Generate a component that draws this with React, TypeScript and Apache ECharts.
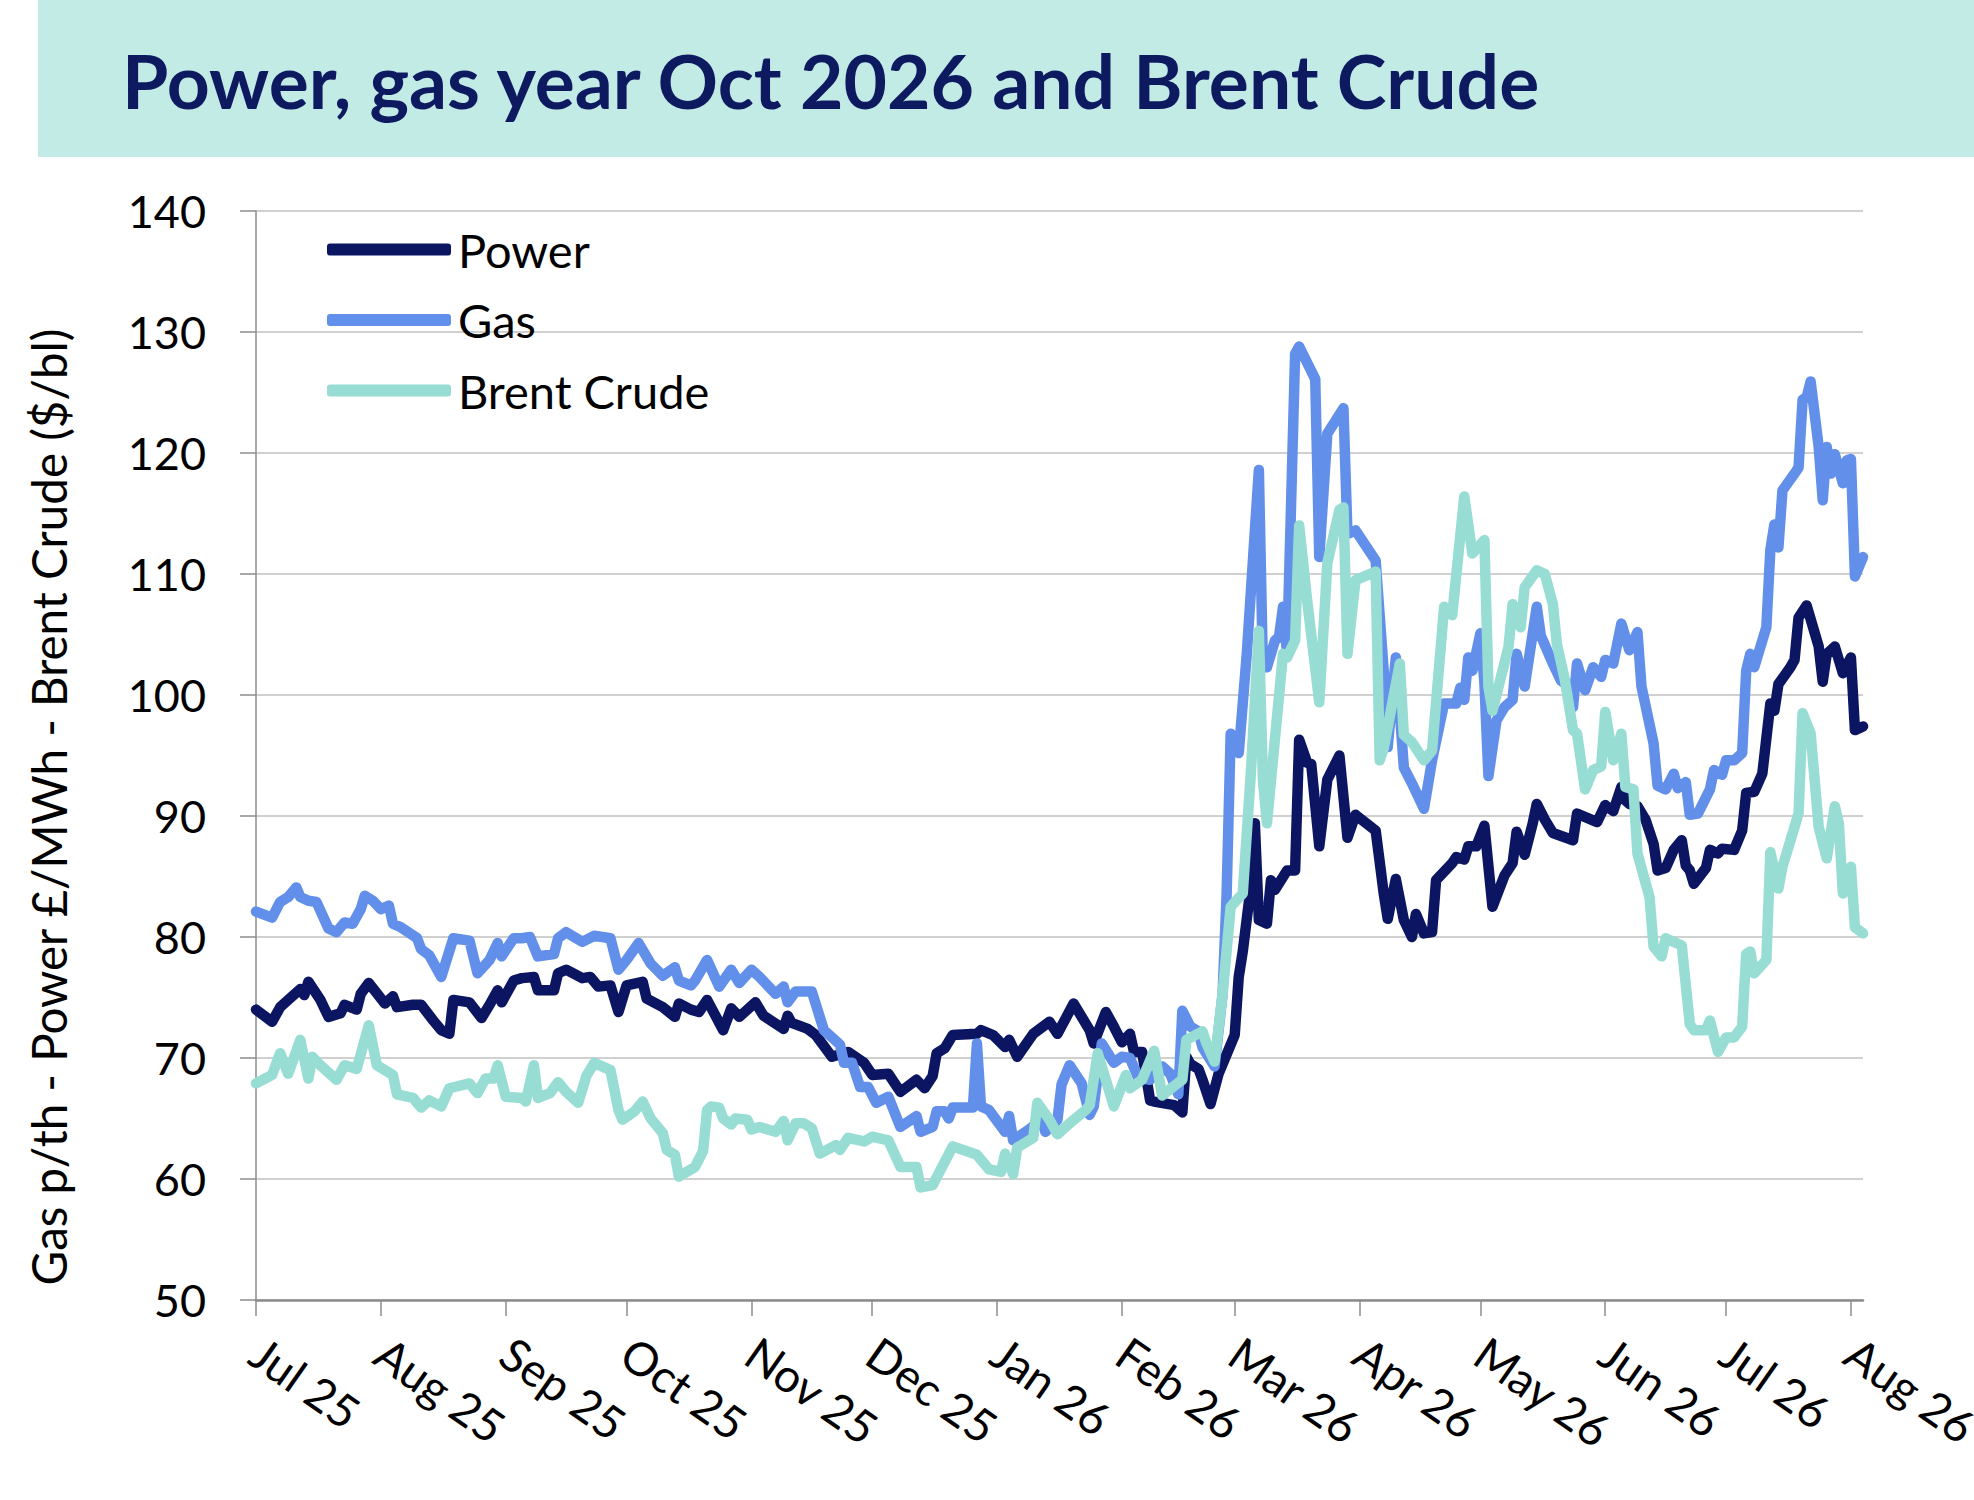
import React, { useEffect, useRef } from "react";
import * as echarts from "echarts";

// ---- data (days counted from 1 Jul 2025) ----
const TITLE = "Power, gas year Oct 2026 and Brent Crude";
const Y_TITLE = "Gas p/th - Power £/MWh - Brent Crude ($/bl)";
const SERIES_NAMES = ["Power", "Gas", "Brent Crude"];
const MONTH_LABELS = ["Jul 25", "Aug 25", "Sep 25", "Oct 25", "Nov 25", "Dec 25", "Jan 26", "Feb 26", "Mar 26", "Apr 26", "May 26", "Jun 26", "Jul 26", "Aug 26"];
const Y_MIN = 50;
const Y_MAX = 140;
const Y_STEP = 10;
const LAST_DAY = 399;

const powerDays = [0, 4, 6, 8, 11, 12, 13, 16, 18, 21, 22, 25, 26, 28, 32, 34, 35, 39, 41, 44, 46, 48, 49, 53, 56, 58, 60, 61, 64, 66, 69, 70, 74, 75, 77, 81, 83, 85, 88, 90, 92, 96, 97, 101, 104, 105, 108, 110, 112, 116, 118, 120, 124, 126, 131, 132, 133, 137, 139, 143, 147, 151, 153, 157, 160, 164, 166, 168, 169, 171, 173, 179, 180, 183, 186, 187, 189, 193, 197, 199, 203, 207, 208, 211, 213, 215, 217, 218, 220, 222, 223, 228, 230, 231, 232, 234, 235, 237, 239, 243, 244, 245, 247, 248, 249, 251, 252, 253, 256, 258, 259, 261, 262, 264, 266, 269, 271, 273, 278, 280, 281, 283, 285, 287, 288, 290, 292, 293, 297, 298, 300, 301, 303, 305, 307, 310, 312, 313, 315, 317, 318, 320, 322, 327, 328, 333, 335, 337, 339, 340, 341, 343, 345, 347, 348, 350, 352, 354, 355, 356, 357, 360, 361, 363, 364, 367, 369, 370, 372, 374, 376, 377, 378, 381, 382, 383, 385, 388, 389, 390, 392, 394, 396, 397, 399];
const powerValues = [74, 73, 74.2, 74.8, 75.7, 75.2, 76.3, 74.8, 73.4, 73.7, 74.4, 74, 75.3, 76.2, 74.5, 75.1, 74.2, 74.4, 74.4, 73.1, 72.3, 72.0, 74.8, 74.6, 73.3, 74.4, 75.6, 74.6, 76.4, 76.6, 76.7, 75.6, 75.6, 77, 77.3, 76.6, 76.7, 75.9, 76, 73.8, 76, 76.3, 74.9, 74.2, 73.4, 74.5, 74.0, 73.8, 74.8, 72.3, 74.1, 73.4, 74.6, 73.5, 72.4, 73.5, 72.9, 72.4, 71.9, 70.1, 70.5, 69.6, 68.6, 68.7, 67.2, 68.2, 67.5, 68.5, 70.4, 70.8, 71.9, 72, 72.3, 71.9, 70.9, 71.5, 70.1, 72, 73, 72, 74.5, 72.3, 71.2, 73.8, 72.6, 71.3, 72, 70.5, 70.5, 66.5, 66.4, 66.1, 65.5, 70.1, 69.5, 69.1, 68.2, 66.2, 68.7, 71.9, 76.7, 78.8, 84.2, 89.4, 81.4, 81.1, 84.7, 83.9, 85.5, 85.5, 96.3, 94.4, 94.3, 87.5, 93, 95, 88.2, 90.1, 88.8, 83.6, 81.5, 84.8, 81.4, 80, 81.9, 80.3, 80.4, 84.7, 86.1, 86.6, 86.4, 87.5, 87.5, 89.2, 82.5, 85.1, 86.1, 88.7, 86.8, 89.4, 91, 89.7, 88.6, 88, 90.2, 89.5, 90.9, 90.4, 92.4, 91.3, 91, 90.8, 89.7, 87.7, 85.5, 85.7, 87.2, 88, 85.9, 85.5, 84.4, 85.7, 87.2, 86.9, 87.3, 87.2, 88.8, 91.9, 92, 93.5, 99.3, 98.7, 100.9, 102.3, 102.9, 106.4, 107.4, 104, 101.1, 103.4, 104, 101.8, 103.1, 97.1, 97.4];

const gasDays = [0, 4, 6, 8, 10, 11, 13, 15, 18, 20, 22, 24, 26, 27, 29, 31, 33, 34, 36, 40, 41, 43, 46, 49, 53, 55, 58, 60, 61, 64, 66, 68, 70, 74, 75, 77, 81, 84, 88, 90, 92, 95, 98, 101, 104, 105, 108, 109, 112, 115, 118, 120, 123, 125, 129, 131, 132, 134, 138, 141, 145, 146, 148, 150, 152, 154, 157, 160, 164, 165, 168, 169, 171, 172, 173, 178, 179, 180, 182, 186, 187, 188, 192, 195, 196, 199, 200, 202, 205, 207, 208, 210, 213, 215, 217, 219, 222, 225, 227, 229, 230, 232, 234, 235, 238, 240, 241, 242, 244, 246, 249, 250, 251, 253, 254, 255, 256, 258, 259, 263, 264, 266, 270, 271, 273, 278, 280, 281, 283, 285, 287, 290, 292, 295, 298, 299, 300, 301, 302, 304, 305, 306, 308, 310, 312, 313, 315, 317, 318, 319, 322, 324, 326, 327, 328, 330, 332, 334, 335, 337, 339, 341, 343, 344, 347, 348, 350, 352, 353, 355, 356, 358, 361, 362, 364, 365, 367, 369, 370, 371, 372, 375, 376, 377, 378, 379, 382, 383, 384, 385, 386, 388, 389, 390, 391, 392, 394, 395, 396, 397, 399];
const gasValues = [82.1, 81.6, 82.9, 83.3, 84.1, 83.3, 83.0, 82.9, 80.7, 80.4, 81.2, 81.1, 82.3, 83.4, 83.0, 82.3, 82.6, 81.1, 80.8, 79.9, 79.0, 78.5, 76.7, 79.9, 79.7, 77.0, 78.1, 79.5, 78.4, 79.9, 79.9, 80, 78.4, 78.6, 79.9, 80.4, 79.6, 80.1, 79.9, 77.3, 78.1, 79.5, 77.8, 76.8, 77.5, 76.4, 76.0, 76.4, 78.1, 75.9, 77.3, 76.2, 77.3, 76.7, 75.3, 75.9, 74.6, 75.5, 75.5, 72.3, 71.1, 69.6, 69.6, 67.6, 67.6, 66.3, 66.8, 64.3, 65.2, 63.9, 64.3, 65.6, 65.6, 65.0, 65.9, 65.9, 71.2, 66, 65.7, 63.9, 65.2, 63.2, 64.1, 64.9, 63.9, 64.9, 67.8, 69.4, 67.9, 65.3, 66, 71.2, 69.6, 70.1, 70.0, 68.4, 68.2, 69.3, 68.7, 67.0, 73.9, 72.6, 72.2, 70.9, 69.3, 75.3, 83.6, 96.8, 95.2, 103.4, 118.6, 102.3, 102.3, 104.5, 104.8, 107.3, 103.4, 128.2, 128.8, 126.1, 111.4, 121.6, 123.7, 113.3, 113.6, 111.1, 102, 95.7, 103.1, 94, 92.7, 90.6, 94.6, 99.3, 99.3, 100.6, 99.6, 103.1, 102, 105.1, 101.0, 93.3, 97.9, 99, 99.6, 103.4, 100.7, 105.1, 107.3, 104.9, 102.6, 101.2, 100.7, 99, 102.6, 100.4, 102.3, 101.5, 102.9, 102.6, 105.9, 103.7, 105.2, 100.7, 96, 92.5, 92.2, 93.5, 92.3, 92.8, 90.1, 90.2, 92.2, 93.8, 93.4, 94.6, 94.6, 95.2, 102, 103.4, 102.3, 105.6, 112, 114.1, 112.2, 116.9, 118.3, 118.8, 124.4, 124.6, 125.9, 120.5, 116.1, 120.5, 118.3, 119.9, 117.5, 119.4, 119.5, 109.8, 111.4];

const brentDays = [0, 4, 6, 8, 11, 13, 14, 16, 20, 22, 25, 28, 30, 34, 35, 39, 40, 41, 43, 46, 48, 53, 55, 57, 59, 60, 62, 66, 67, 69, 70, 73, 75, 77, 80, 82, 84, 88, 90, 91, 94, 96, 98, 101, 102, 104, 105, 107, 109, 111, 112, 113, 115, 116, 118, 119, 122, 123, 125, 129, 131, 132, 134, 136, 138, 140, 144, 145, 147, 151, 153, 157, 160, 164, 165, 168, 173, 179, 182, 185, 186, 188, 189, 193, 194, 197, 199, 202, 206, 207, 209, 213, 216, 217, 220, 223, 225, 228, 230, 231, 235, 236, 238, 240, 242, 245, 247, 249, 250, 251, 255, 256, 258, 259, 261, 264, 266, 269, 270, 271, 273, 278, 279, 280, 284, 285, 287, 290, 292, 295, 297, 300, 302, 305, 306, 307, 311, 312, 314, 315, 318, 320, 322, 323, 325, 327, 328, 330, 332, 334, 335, 337, 339, 340, 342, 343, 346, 347, 349, 350, 354, 356, 357, 360, 361, 363, 365, 367, 369, 370, 371, 372, 375, 376, 378, 379, 382, 383, 384, 386, 388, 390, 392, 393, 394, 396, 397, 399];
const brentValues = [67.9, 68.6, 70.4, 68.7, 71.5, 68.3, 70.1, 69.4, 68.2, 69.4, 69.1, 72.7, 69.4, 68.6, 67, 66.7, 66.3, 65.9, 66.5, 66, 67.5, 67.9, 67.1, 68.3, 68.3, 69.4, 66.8, 66.7, 66.4, 69.4, 66.7, 67.1, 68, 67.2, 66.3, 68.5, 69.6, 69, 65.7, 64.9, 65.6, 66.4, 65, 63.8, 62.4, 62, 60.2, 60.6, 61.0, 62.3, 65.7, 66, 65.9, 65, 64.5, 65, 64.9, 64.1, 64.3, 63.9, 64.8, 63.2, 64.6, 64.6, 64.2, 62.1, 62.8, 62.4, 63.4, 63.1, 63.5, 63.2, 61, 61, 59.3, 59.5, 62.7, 62, 60.8, 60.6, 62.1, 60.4, 62.6, 63.4, 66.3, 64.9, 63.7, 64.6, 65.7, 66.1, 70.4, 66, 68.6, 67.5, 68.2, 70.6, 66.9, 67.7, 68.2, 71.5, 72.2, 71.2, 69.7, 75.3, 82.5, 83.6, 93.5, 105.3, 93, 89.4, 103.4, 103.1, 104.5, 114, 107.8, 99.4, 110.9, 115.3, 115.5, 103.4, 109.5, 110.2, 94.6, 95.6, 102.6, 96.7, 96.1, 94.6, 95.4, 107.3, 106.6, 116.4, 111.7, 112.8, 100.7, 98.7, 104, 107.5, 105.6, 108.9, 110.3, 110, 107.5, 104.2, 101.2, 97.1, 96.8, 92.2, 93.8, 94.1, 98.6, 94.6, 96.8, 92.4, 92.2, 86.9, 83.3, 79.2, 78.4, 79.9, 79.3, 72.8, 72.3, 72.3, 73.1, 70.5, 71.7, 71.7, 72.6, 78.6, 78.8, 77, 78.1, 87, 84, 85.8, 89.1, 90.2, 98.5, 96.8, 89.1, 86.5, 90.8, 89.4, 83.6, 85.8, 80.8, 80.3];

// ---- helpers ----
const DAY_MS = 86400000;
const START = new Date(2025, 6, 1).getTime();
const monthStartDays = MONTH_LABELS.map((_, i) => Math.round((new Date(2025, 6 + i, 1).getTime() - START) / DAY_MS));
const pairs = (days: number[], vals: number[]) => days.map((d, i) => [d, vals[i]]);

const COLORS = { power: "#0b1562", gas: "#628fea", brent: "#97ddd4" };
const FONT = "Lato";

export default function App() {
  const ref = useRef<HTMLDivElement>(null);

  useEffect(() => {
    document.body.style.margin = "0";
    if (!ref.current) return;
    const chart = echarts.init(ref.current, undefined, { renderer: "svg" });

    const lineSeries = (name: string, data: number[][], color: string) => ({
      name,
      type: "line",
      data,
      showSymbol: false,
      symbol: "none",
      lineStyle: { color, width: 10.5, cap: "round", join: "round" },
      itemStyle: { color },
      emphasis: { disabled: true },
    });

    chart.setOption({
      animation: false,
      backgroundColor: "#ffffff",
      textStyle: { fontFamily: FONT },
      grid: { left: 256, right: 111, top: 211, bottom: 200, containLabel: false, outerBoundsMode: "none" },
      graphic: [
        { type: "rect", left: 38, top: 0, shape: { width: 1936, height: 157 }, style: { fill: "#c2ebe6" }, silent: true },
        {
          type: "text",
          x: 122,
          y: 80,
          style: { text: TITLE, fill: "#0e1a60", fontFamily: FONT, fontWeight: "bold", fontSize: 75, align: "left", verticalAlign: "middle", textAlign: "left", textVerticalAlign: "middle" },
        },
        {
          type: "text",
          x: 48,
          y: 807,
          rotation: Math.PI / 2,
          style: { text: Y_TITLE, fill: "#000000", fontFamily: FONT, fontSize: 47.5, align: "center", verticalAlign: "middle", textAlign: "center", textVerticalAlign: "middle" },
        },
      ],
      legend: {
        show: true,
        data: SERIES_NAMES,
        orient: "vertical",
        left: 327,
        top: 226,
        padding: 0,
        itemWidth: 124,
        itemHeight: 12,
        itemGap: 23.5,
        icon: "roundRect",
        selectedMode: false,
        textStyle: { fontFamily: FONT, fontSize: 47, color: "#000", lineHeight: 47, padding: [0, 0, 0, 2] },
      },
      xAxis: {
        type: "value",
        min: 0,
        max: LAST_DAY,
        axisLine: { show: true, lineStyle: { color: "#8c8c8c", width: 2.5 } },
        axisTick: { show: true, customValues: monthStartDays, length: 16, lineStyle: { color: "#8c8c8c", width: 1.5 } },
        axisLabel: {
          customValues: monthStartDays,
          rotate: -35,
          margin: 48,
          fontFamily: FONT,
          fontSize: 46,
          color: "#000",
          formatter: (v: number) => {
            const i = monthStartDays.indexOf(Math.round(v));
            return i >= 0 ? MONTH_LABELS[i] : "";
          },
        },
        splitLine: { show: false },
      },
      yAxis: {
        type: "value",
        min: Y_MIN,
        max: Y_MAX,
        interval: Y_STEP,
        axisLine: { show: true, lineStyle: { color: "#8c8c8c", width: 1.5 } },
        axisTick: { show: true, length: 16, lineStyle: { color: "#8c8c8c", width: 1.5 } },
        axisLabel: { margin: 50, fontFamily: FONT, fontSize: 45, color: "#000" },
        splitLine: { show: true, lineStyle: { color: "#d0d0d0", width: 2 } },
      },
      series: [
        lineSeries(SERIES_NAMES[0], pairs(powerDays, powerValues), COLORS.power),
        lineSeries(SERIES_NAMES[1], pairs(gasDays, gasValues), COLORS.gas),
        lineSeries(SERIES_NAMES[2], pairs(brentDays, brentValues), COLORS.brent),
      ],
    });

    return () => chart.dispose();
  }, []);

  return <div ref={ref} style={{ width: 1974, height: 1500 }} />;
}
